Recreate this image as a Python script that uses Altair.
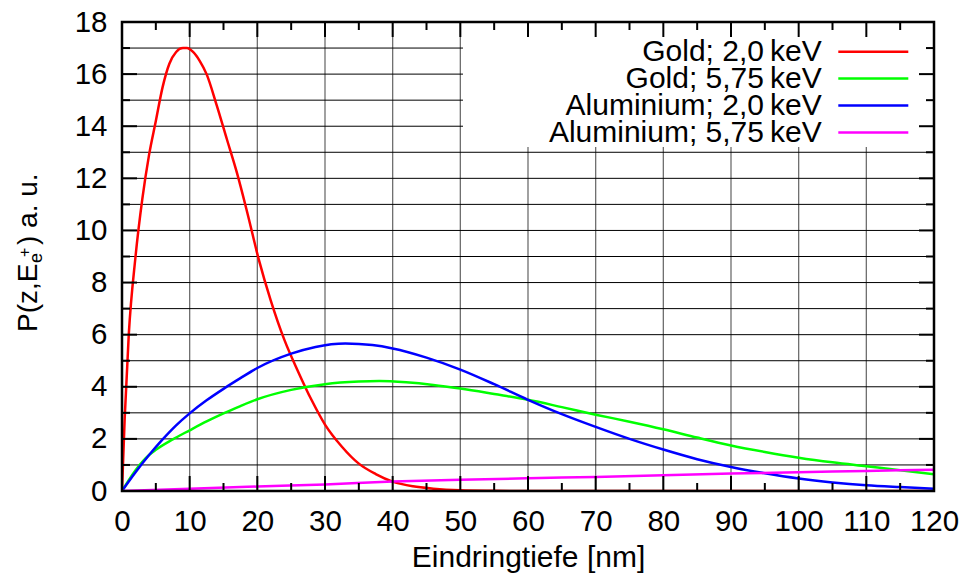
import altair as alt
import pandas as pd

# ---------------- data ----------------
gold_20_x = [0, 0.4, 1.0, 2.0, 3.0, 4.0, 5.0, 6.0, 7.0, 8.0, 9.0, 9.6, 10.5, 11.5, 12.5,
             14.0, 15.5, 17.0, 18.5, 20.2, 22.0, 24.0, 26.0, 28.0, 30.0, 32.5, 35.0,
             37.5, 40.0, 43.0, 46.0, 50.0, 55.0, 60.0, 70.0, 80.0, 90.0, 100.0, 110.0, 120.0]
gold_20_y = [0, 2.8, 6.0, 9.0, 11.2, 12.9, 14.2, 15.5, 16.4, 16.85, 17.0, 17.0, 16.85, 16.5, 16.0,
             14.8, 13.5, 12.2, 10.7, 8.9, 7.3, 5.8, 4.6, 3.5, 2.55, 1.7, 1.05,
             0.65, 0.36, 0.18, 0.09, 0.03, 0.01, 0, 0, 0, 0, 0, 0, 0]

gold_575_x = [0, 1, 2, 3, 4, 5, 7.5, 10, 12.5, 15, 17.5, 20, 25, 30, 35, 38, 42, 46, 50, 55, 60,
              65, 70, 75, 80, 85, 90, 95, 100, 105, 110, 115, 120]
gold_575_y = [0, 0.42, 0.8, 1.12, 1.38, 1.58, 1.98, 2.33, 2.67, 2.98, 3.26, 3.52, 3.88, 4.1, 4.2,
              4.22, 4.17, 4.07, 3.93, 3.72, 3.5, 3.22, 2.93, 2.66, 2.37, 2.05, 1.75, 1.5, 1.28,
              1.1, 0.95, 0.8, 0.64]

al_20_x = [0, 2, 4, 6, 8, 10, 12.5, 15, 17.5, 20, 25, 28.6, 33, 37, 40, 45, 50, 55, 60, 65, 70,
           75, 80, 85, 90, 95, 100, 105, 110, 115, 120]
al_20_y = [0, 0.72, 1.38, 1.98, 2.52, 2.98, 3.48, 3.92, 4.33, 4.72, 5.27, 5.53, 5.66, 5.6, 5.47,
           5.12, 4.66, 4.1, 3.5, 2.95, 2.46, 2.0, 1.59, 1.22, 0.92, 0.68, 0.48, 0.33, 0.22,
           0.15, 0.09]

al_575_x = [0, 10, 20, 30, 40, 50, 60, 70, 80, 90, 100, 110, 120]
al_575_y = [0, 0.09, 0.17, 0.25, 0.36, 0.43, 0.49, 0.54, 0.6, 0.67, 0.72, 0.77, 0.82]

series_names = ["Gold; 2,0\u2009keV", "Gold; 5,75\u2009keV",
                "Aluminium; 2,0\u2009keV", "Aluminium; 5,75\u2009keV"]
series_colors = ["#ff0000", "#00ff00", "#0000ff", "#ff00ff"]
series_x = [gold_20_x, gold_575_x, al_20_x, al_575_x]
series_y = [gold_20_y, gold_575_y, al_20_y, al_575_y]

x_ticks = list(range(0, 121, 10))
x_minor = list(range(5, 120, 10))
y_ticks = list(range(0, 19, 2))
y_minor = list(range(1, 18, 2))
x_grid = list(range(10, 120, 10))
y_grid = list(range(1, 18))

# ---------------- layout ----------------
W, H = 812, 469
FONT = "Liberation Sans, Arial, Helvetica, sans-serif"
FS_LAB = 29.5
FS = 30

xs = alt.Scale(domain=[0, 120], nice=False, zero=False)
ys = alt.Scale(domain=[0, 18], nice=False, zero=False)

x_axis = alt.Axis(values=x_ticks, ticks=False, tickSize=0, domain=False, grid=False,
                  labelFont=FONT, labelFontSize=FS_LAB, labelColor="black", labelPadding=16,
                  labelAngle=0, labelFlush=False, labelOverlap=False,
                  title="Eindringtiefe [nm]", titleFont=FONT, titleFontSize=FS,
                  titleFontWeight="normal", titleColor="black", titlePadding=7)
y_axis = alt.Axis(values=y_ticks, ticks=False, tickSize=0, domain=False, grid=False,
                  labelFont=FONT, labelFontSize=FS_LAB, labelColor="black", labelPadding=15,
                  labelFlush=False, labelOverlap=False, title="")

dummy = pd.DataFrame({"k": [0]})
layers = []

# grid
layers.append(alt.Chart(pd.DataFrame({"x": x_grid})).mark_rule(color="#6e6e6e", strokeWidth=1.3).encode(
    x=alt.X("x:Q", scale=xs, axis=x_axis), y=alt.value(0), y2=alt.value(H)))
layers.append(alt.Chart(pd.DataFrame({"y": y_grid})).mark_rule(color="black", strokeWidth=1).encode(
    y=alt.Y("y:Q", scale=ys, axis=y_axis), x=alt.value(0), x2=alt.value(W)))

# legend background box
layers.append(alt.Chart(dummy).mark_rect(fill="white", strokeWidth=0).encode(
    x=alt.value(341), x2=alt.value(W), y=alt.value(0), y2=alt.value(125)))

# curves
for xv, yv, col in zip(series_x, series_y, series_colors):
    df = pd.DataFrame({"x": xv, "y": yv})
    layers.append(alt.Chart(df).mark_line(color=col, strokeWidth=2.5, interpolate="monotone", clip=True).encode(
        x=alt.X("x:Q", scale=xs, axis=x_axis), y=alt.Y("y:Q", scale=ys, axis=y_axis)))

# inward ticks
TK_MAJ, TK_MIN = 15, 8
for vals, ln in [(x_ticks, TK_MAJ), (x_minor, TK_MIN)]:
    d = pd.DataFrame({"x": vals})
    layers.append(alt.Chart(d).mark_rule(color="black", strokeWidth=2).encode(
        x=alt.X("x:Q", scale=xs, axis=x_axis), y=alt.value(H), y2=alt.value(H - ln)))
    layers.append(alt.Chart(d).mark_rule(color="black", strokeWidth=2).encode(
        x=alt.X("x:Q", scale=xs, axis=x_axis), y=alt.value(0), y2=alt.value(ln)))
for vals, ln in [(y_ticks, TK_MAJ), (y_minor, TK_MIN)]:
    d = pd.DataFrame({"y": vals})
    layers.append(alt.Chart(d).mark_rule(color="black", strokeWidth=2).encode(
        y=alt.Y("y:Q", scale=ys, axis=y_axis), x=alt.value(0), x2=alt.value(ln)))
    layers.append(alt.Chart(d).mark_rule(color="black", strokeWidth=2).encode(
        y=alt.Y("y:Q", scale=ys, axis=y_axis), x=alt.value(W), x2=alt.value(W - ln)))

# border
layers.append(alt.Chart(dummy).mark_rect(fillOpacity=0, stroke="black", strokeWidth=2.5).encode(
    x=alt.value(0), x2=alt.value(W), y=alt.value(0), y2=alt.value(H)))

# legend entries
for i, (name, col) in enumerate(zip(series_names, series_colors)):
    ly = 29.7 + 26.9 * i
    layers.append(alt.Chart(dummy).mark_text(text=name, font=FONT, fontSize=FS, color="black",
                                             align="right", baseline="alphabetic").encode(
        x=alt.value(699.7), y=alt.value(ly + 9.5)))
    layers.append(alt.Chart(dummy).mark_rule(color=col, strokeWidth=2.5).encode(
        x=alt.value(716.3), x2=alt.value(786.3), y=alt.value(ly)))

# y-axis title P(z,E_{e+}) a. u.
ytitle_parts = [("P(z,E", -85, 310, 28), ("e", -80, 241, 18), ("+", -92, 235, 16), (") a. u.", -85, 223, 28)]
for txt, px, py, fs in ytitle_parts:
    layers.append(alt.Chart(dummy).mark_text(text=txt, font=FONT, fontSize=fs, color="black",
                                             angle=270, align="left", baseline="alphabetic").encode(
        x=alt.value(px), y=alt.value(py)))

chart = alt.layer(*layers).properties(
    width=W, height=H,
    autosize=alt.AutoSizeParams(type="none"),
    padding={"left": 122, "top": 22, "right": 35, "bottom": 85},
    background="white",
).configure_view(stroke=None)

chart.save("out.html", embed_options={"renderer": "svg", "actions": False})
